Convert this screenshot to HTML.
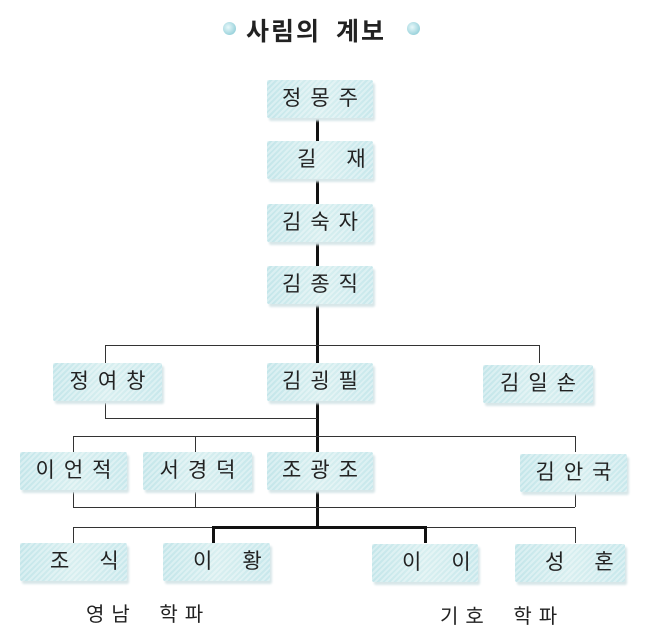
<!DOCTYPE html>
<html><head><meta charset="utf-8"><style>
body{margin:0;width:651px;height:642px;background:#fff;position:relative;font-family:"Liberation Sans","Noto Sans CJK KR","NanumGothic",sans-serif;overflow:hidden}
.b{position:absolute;height:38px;line-height:38px;text-align:center;font-size:21px;color:#222;letter-spacing:9px;text-indent:9px;white-space:nowrap;
background:repeating-linear-gradient(135deg,rgba(255,255,255,.35) 0 2px,rgba(255,255,255,0) 2px 4px),linear-gradient(90deg,#c4e6ea,#d8eff0 50%,#c8e8ec);
box-shadow:2px 3px 2px #d7e6e8;border-radius:2px}
.w{letter-spacing:30px;text-indent:30px}
.l{position:absolute;background:#333}
.t{position:absolute;font-size:20px;color:#222;letter-spacing:7px;word-spacing:10px;white-space:nowrap}
.dot{position:absolute;width:13px;height:13px;border-radius:50%;background:radial-gradient(circle at 40% 40%,#e8f8fa,#7cc4d0)}
</style></head><body>
<div class="dot" style="left:223px;top:22px"></div>
<div class="dot" style="left:407px;top:22px"></div>
<div style="position:absolute;left:246px;top:12px;font-size:25px;font-weight:bold;color:#222;letter-spacing:2px;word-spacing:6px;white-space:nowrap">사림의 계보</div>

<div class="l" style="left:316px;top:118px;width:3px;height:410px;background:#111"></div>
<div class="l" style="left:105px;top:345px;width:435px;height:1px"></div>
<div class="l" style="left:105px;top:345px;width:1px;height:18px"></div>
<div class="l" style="left:539px;top:345px;width:1px;height:18px"></div>
<div class="l" style="left:105px;top:403px;width:1px;height:15px"></div>
<div class="l" style="left:105px;top:418px;width:212px;height:1px"></div>
<div class="l" style="left:73px;top:436px;width:502px;height:1px"></div>
<div class="l" style="left:73px;top:436px;width:1px;height:16px"></div>
<div class="l" style="left:195px;top:436px;width:1px;height:16px"></div>
<div class="l" style="left:575px;top:436px;width:1px;height:16px"></div>
<div class="l" style="left:73px;top:492px;width:1px;height:15px"></div>
<div class="l" style="left:195px;top:492px;width:1px;height:15px"></div>
<div class="l" style="left:575px;top:492px;width:1px;height:15px"></div>
<div class="l" style="left:73px;top:507px;width:502px;height:1px"></div>
<div class="l" style="left:73px;top:527px;width:502px;height:1px"></div>
<div class="l" style="left:73px;top:527px;width:1px;height:16px"></div>
<div class="l" style="left:575px;top:527px;width:1px;height:16px"></div>
<div class="l" style="left:212px;top:526px;width:214px;height:3px;background:#111"></div>
<div class="l" style="left:212px;top:526px;width:3px;height:17px;background:#111"></div>
<div class="l" style="left:424px;top:526px;width:3px;height:17px;background:#111"></div>

<div class="b" style="left:267px;top:80px;width:106px">정몽주</div>
<div class="b w" style="left:267px;top:141px;width:106px">길재</div>
<div class="b" style="left:267px;top:204px;width:106px">김숙자</div>
<div class="b" style="left:267px;top:266px;width:106px">김종직</div>

<div class="b" style="left:53px;top:363px;width:109px">정여창</div>
<div class="b" style="left:267px;top:363px;width:106px">김굉필</div>
<div class="b" style="left:483px;top:365px;width:110px">김일손</div>

<div class="b" style="left:20px;top:452px;width:107px">이언적</div>
<div class="b" style="left:143px;top:452px;width:109px">서경덕</div>
<div class="b" style="left:267px;top:452px;width:106px">조광조</div>
<div class="b" style="left:520px;top:454px;width:107px">김안국</div>

<div class="b w" style="left:20px;top:543px;width:107px">조식</div>
<div class="b w" style="left:163px;top:543px;width:107px">이황</div>
<div class="b w" style="left:372px;top:544px;width:106px">이이</div>
<div class="b w" style="left:515px;top:544px;width:110px">성혼</div>

<div class="t" style="left:86px;top:598px">영남 학파</div>
<div class="t" style="left:440px;top:600px">기호 학파</div>
</body></html>
